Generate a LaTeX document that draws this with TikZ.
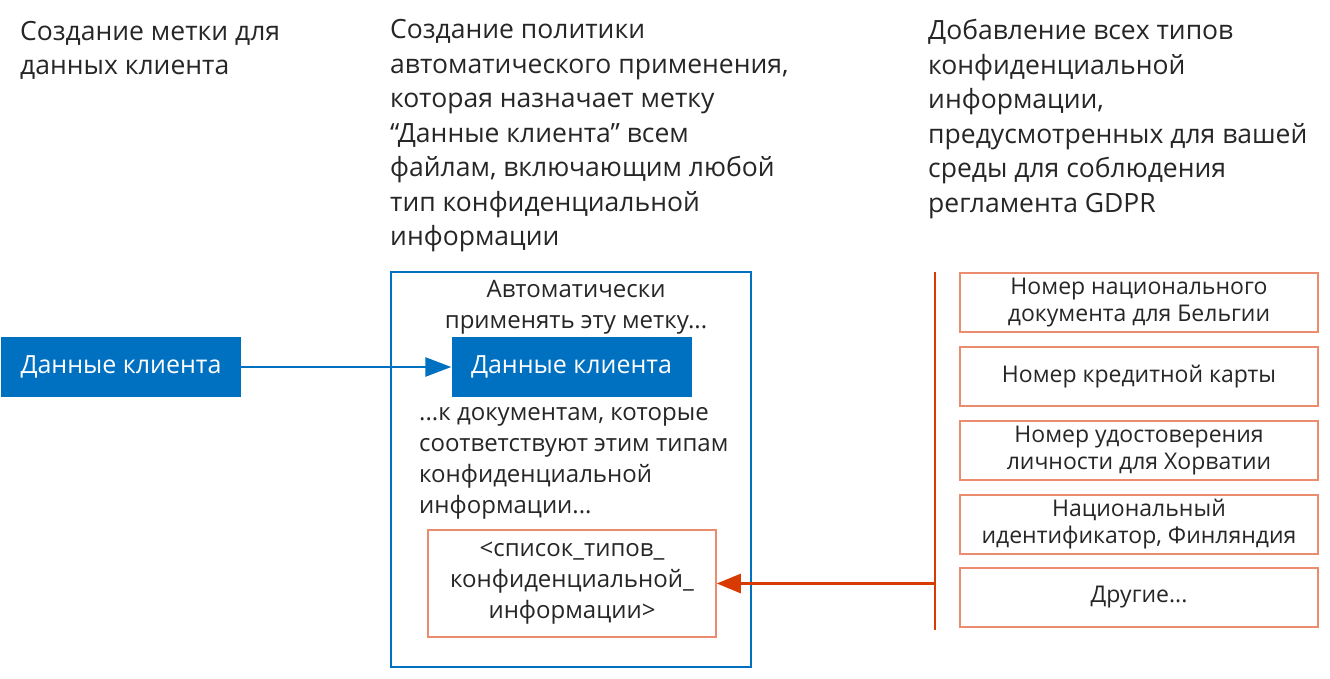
\documentclass[tikz,border=0pt]{standalone}
\usepackage{fontspec}
\setmainfont{Open Sans}
\usetikzlibrary{arrows.meta,positioning}
\definecolor{msblue}{RGB}{0,112,192}
\definecolor{msorange}{RGB}{216,59,1}
\definecolor{softorange}{RGB}{236,140,110}
\definecolor{darktext}{RGB}{38,38,38}

\begin{document}
\begin{tikzpicture}[x=1pt, y=-1pt,
    head/.style={anchor=west, align=left, inner sep=0pt, text=darktext,
                 font=\fontsize{26.5}{34.5}\selectfont},
    body/.style={align=center, inner sep=0pt, text=darktext,
                 font=\fontsize{24}{31}\selectfont},
    tagbox/.style={fill=msblue, text=white, inner sep=0pt,
                   minimum width=240pt, minimum height=60pt,
                   font=\fontsize{25}{31}\selectfont},
    frame/.style={draw=msblue, line width=2.7pt,
                  minimum width=360pt, minimum height=395pt},
    sitbox/.style={draw=softorange, line width=1.5pt, align=center, text=darktext,
                   minimum width=358pt, minimum height=59pt, inner sep=0pt,
                   font=\fontsize{23}{27}\selectfont},
    bluelink/.style={-{Triangle[length=26pt,width=19pt]}, draw=msblue, line width=2.7pt},
    orangelink/.style={-{Triangle[length=24pt,width=19pt]}, draw=msorange, line width=2.7pt}]

    \useasboundingbox (0,0) rectangle (1330,678);

    % column headings
    \node[head] (head1) at (20,50.5) {Создание метки для\\данных клиента};
    \node[head] (head2) at (390,136) {Создание политики\\автоматического применения,\\которая назначает метку\\“Данные клиента” всем\\файлам, включающим любой\\тип конфиденциальной\\информации};
    \node[head] (head3) at (928,119) {Добавление всех типов\\конфиденциальной\\информации,\\предусмотренных для вашей\\среды для соблюдения\\регламента GDPR};

    % label and policy
    \node[tagbox] (client) at (121,367) {Данные клиента};
    \node[frame] (policy) at (571,469.5) {};
    \node[body] (applytxt) at (576,307) {Автоматически\\применять эту метку...};
    \node[tagbox] (autolabel) at (571.5,367) {Данные клиента};
    \node[body, anchor=west, align=left] (matchtxt) at (419,463) {...к документам, которые\\соответствуют этим типам\\конфиденциальной\\информации...};
    \node[sitbox, minimum width=288pt, minimum height=107pt, font=\fontsize{24}{31}\selectfont]
        (sitlist) at (572,583.5) {<список\_типов\_\\конфиденциальной\_\\информации>};

    % sensitive info types
    \node[sitbox] (sit1) at (1139,302.5) {Номер национального\\документа для Бельгии};
    \node[sitbox] (sit2) at (1139,376.5) {Номер кредитной карты};
    \node[sitbox] (sit3) at (1139,450.5) {Номер удостоверения\\личности для Хорватии};
    \node[sitbox] (sit4) at (1139,524.5) {Национальный\\идентификатор, Финляндия};
    \node[sitbox] (sit5) at (1139,597.5) {Другие...};

    \coordinate (bustop) at (935,272);
    \coordinate (busbot) at (935,630);

    \draw[bluelink] (client) -- (autolabel);
    \draw[draw=msorange, line width=2.7pt] (bustop) -- (busbot);
    \draw[orangelink] (bustop |- sitlist) -- (sitlist.east);
\end{tikzpicture}
\end{document}
